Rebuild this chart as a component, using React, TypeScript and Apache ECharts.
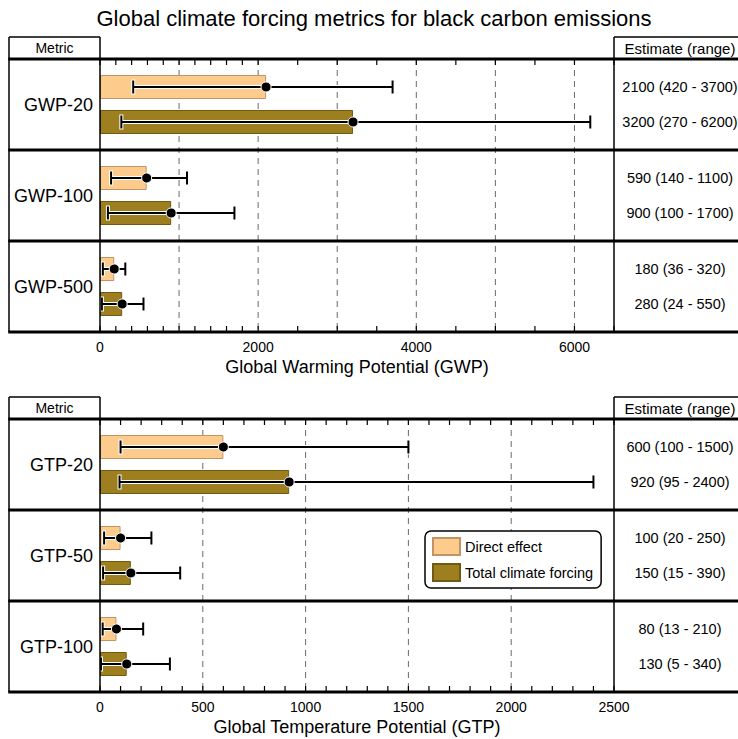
import React, { useEffect, useRef } from 'react';
import * as echarts from 'echarts';

// ---------- data ----------
const gwpMetrics = ['GWP-20', 'GWP-100', 'GWP-500'];
const gwpDirect = [2100, 590, 180];
const gwpDirectLow = [420, 140, 36];
const gwpDirectHigh = [3700, 1100, 320];
const gwpTotal = [3200, 900, 280];
const gwpTotalLow = [270, 100, 24];
const gwpTotalHigh = [6200, 1700, 550];

const gtpMetrics = ['GTP-20', 'GTP-50', 'GTP-100'];
const gtpDirect = [600, 100, 80];
const gtpDirectLow = [100, 20, 13];
const gtpDirectHigh = [1500, 250, 210];
const gtpTotal = [920, 150, 130];
const gtpTotalLow = [95, 15, 5];
const gtpTotalHigh = [2400, 390, 340];

const gwpMax = 6500;
const gwpTickValues = [0, 200, 400, 600, 800, 1000, 1200, 1400, 1600, 1800, 2000, 2500, 3000, 3500, 4000, 4500, 5000, 5500, 6000, 6500];
const gwpTickLabels = [0, 2000, 4000, 6000];
const gwpGridValues = [1000, 2000, 3000, 4000, 5000, 6000];

const gtpMax = 2500;
const gtpTickValues = [0, 100, 200, 300, 400, 500, 600, 700, 800, 900, 1000, 1100, 1200, 1300, 1400, 1500, 1600, 1700, 1800, 1900, 2000, 2100, 2200, 2300, 2400, 2500];
const gtpTickLabels = [0, 500, 1000, 1500, 2000, 2500];
const gtpGridValues = [500, 1000, 1500, 2000];

const seriesNames = ['Direct effect', 'Total climate forcing'];
const titleText = 'Global climate forcing metrics for black carbon emissions';
const gwpAxisName = 'Global Warming Potential (GWP)';
const gtpAxisName = 'Global Temperature Potential (GTP)';

// ---------- style / layout ----------
const FONT = '"Liberation Sans", Arial, Helvetica, sans-serif';
const DIRECT_COLOR = '#FDCB8B';
const DIRECT_BORDER = '#C09467';
const TOTAL_COLOR = '#9D7F1F';
const TOTAL_BORDER = '#6F5A12';
const W = 738;
const H = 739;
const OUTER_LEFT = 9;
const GRID_LEFT = 100;
const GRID_RIGHT_X = 614;
const RIGHT_TEXT_X = 680;
const BAR_W = 24;
const BAR_OFFSET = 17.5;
const TICK_LEN = 6;
const PANELS = [
  { headerTop: 37, top: 59, height: 273 },
  { headerTop: 397, top: 419, height: 273 },
];

function buildPanel(
  i: number,
  metrics: string[],
  direct: number[], dLo: number[], dHi: number[],
  total: number[], tLo: number[], tHi: number[],
  max: number, ticks: number[], labels: number[], grids: number[], axisName: string
) {
  const p = PANELS[i];
  const grid = { left: GRID_LEFT, top: p.top, width: GRID_RIGHT_X - GRID_LEFT, height: p.height, containLabel: false };
  const xBottom = {
    gridIndex: i, type: 'value', min: 0, max, position: 'bottom',
    axisLine: { show: false },
    axisTick: { show: false },
    axisLabel: { show: true, customValues: labels, fontSize: 14, color: '#000', fontFamily: FONT, margin: 8, formatter: (v: number) => String(v) },
    splitLine: { show: false },
    name: axisName, nameLocation: 'middle', nameGap: 26,
    nameTextStyle: { fontSize: 18, color: '#000', fontFamily: FONT },
  };
  const yAxis = {
    gridIndex: i, type: 'category', data: metrics, inverse: true,
    axisLine: { show: false }, axisTick: { show: false }, splitLine: { show: false },
    axisLabel: { fontSize: 18, color: '#000', fontFamily: FONT, margin: 7 },
  };
  const xi = i;
  const series: any[] = [
    {
      type: 'custom', name: 'grid' + i, xAxisIndex: xi, yAxisIndex: i, z: 1, silent: true,
      data: grids.map((v) => [v, 0]),
      encode: { x: 0, y: 1 },
      renderItem: (params: any, api: any) => {
        const cs = params.coordSys;
        const x = api.coord([api.value(0), 0])[0];
        return {
          type: 'line',
          shape: { x1: x, y1: cs.y, x2: x, y2: cs.y + cs.height },
          style: { stroke: '#6a6a6a', lineWidth: 1, lineDash: [6, 5] },
        };
      },
    },
    {
      type: 'custom', name: 'ticks' + i, xAxisIndex: xi, yAxisIndex: i, z: 3, silent: true,
      data: ticks.map((v) => [v, 0]),
      encode: { x: 0, y: 1 },
      renderItem: (params: any, api: any) => {
        const cs = params.coordSys;
        const x = api.coord([api.value(0), 0])[0];
        return {
          type: 'group',
          children: [
            { type: 'line', shape: { x1: x, y1: cs.y, x2: x, y2: cs.y + TICK_LEN }, style: { stroke: '#000', lineWidth: 1.2 } },
            { type: 'line', shape: { x1: x, y1: cs.y + cs.height - TICK_LEN, x2: x, y2: cs.y + cs.height }, style: { stroke: '#000', lineWidth: 1.2 } },
          ],
        };
      },
    },
    {
      type: 'bar', name: seriesNames[0], xAxisIndex: xi, yAxisIndex: i, z: 2,
      data: direct, barWidth: BAR_W, barGap: ((2 * BAR_OFFSET - BAR_W) / BAR_W * 100).toFixed(1) + '%',
      itemStyle: { color: DIRECT_COLOR, borderColor: DIRECT_BORDER, borderWidth: 1 },
    },
    {
      type: 'bar', name: seriesNames[1], xAxisIndex: xi, yAxisIndex: i, z: 2,
      data: total, barWidth: BAR_W,
      itemStyle: { color: TOTAL_COLOR, borderColor: TOTAL_BORDER, borderWidth: 1 },
    },
  ];
  const errData: number[][] = [];
  const txtData: number[][] = [];
  metrics.forEach((_, c) => {
    errData.push([dLo[c], dHi[c], direct[c], c, -1]);
    errData.push([tLo[c], tHi[c], total[c], c, 1]);
    txtData.push([direct[c], c, -1, dLo[c], dHi[c]]);
    txtData.push([total[c], c, 1, tLo[c], tHi[c]]);
  });
  series.push({
    type: 'custom', name: 'err' + i, xAxisIndex: xi, yAxisIndex: i, z: 5, silent: true,
    data: errData, encode: { x: [0, 1, 2], y: 3 },
    renderItem: (params: any, api: any) => {
      const lo = api.value(0), hi = api.value(1), v = api.value(2), c = api.value(3), k = api.value(4);
      const pt = api.coord([v, c]);
      const y = pt[1] + k * BAR_OFFSET;
      const xl = api.coord([lo, c])[0];
      const xh = api.coord([hi, c])[0];
      const cap = 6.5;
      return {
        type: 'group',
        children: [
          { type: 'line', shape: { x1: xl, y1: y, x2: xh, y2: y }, style: { stroke: '#fff', lineWidth: 4 } },
          { type: 'line', shape: { x1: xl, y1: y - cap - 1, x2: xl, y2: y + cap + 1 }, style: { stroke: '#fff', lineWidth: 4 } },
          { type: 'line', shape: { x1: xh, y1: y - cap - 1, x2: xh, y2: y + cap + 1 }, style: { stroke: '#fff', lineWidth: 4 } },
          { type: 'line', shape: { x1: xl, y1: y, x2: xh, y2: y }, style: { stroke: '#000', lineWidth: 2 } },
          { type: 'line', shape: { x1: xl, y1: y - cap, x2: xl, y2: y + cap }, style: { stroke: '#000', lineWidth: 2 } },
          { type: 'line', shape: { x1: xh, y1: y - cap, x2: xh, y2: y + cap }, style: { stroke: '#000', lineWidth: 2 } },
          { type: 'circle', shape: { cx: pt[0], cy: y, r: 5 }, style: { fill: '#000', stroke: '#fff', lineWidth: 1 } },
        ],
      };
    },
  });
  series.push({
    type: 'custom', name: 'txt' + i, xAxisIndex: xi, yAxisIndex: i, z: 5, silent: true, clip: false,
    data: txtData, encode: { x: 0, y: 1 },
    renderItem: (params: any, api: any) => {
      const v = api.value(0), c = api.value(1), k = api.value(2), lo = api.value(3), hi = api.value(4);
      const pt = api.coord([max, c]);
      return {
        type: 'text',
        x: RIGHT_TEXT_X, y: pt[1] + k * BAR_OFFSET,
        style: { text: `${v} (${lo} - ${hi})`, fill: '#000', fontSize: 14.5, fontFamily: FONT, align: 'center', verticalAlign: 'middle' },
      };
    },
  });
  return { grid, xAxis: xBottom, yAxis, series };
}

function structure(): any[] {
  const els: any[] = [];
  const thin = { stroke: '#000', lineWidth: 1.5 };
  const thick = { stroke: '#000', lineWidth: 3 };
  PANELS.forEach((p) => {
    const bottom = p.top + p.height;
    const line = (x1: number, y1: number, x2: number, y2: number, style: any) =>
      els.push({ type: 'line', z: 10, silent: true, shape: { x1, y1, x2, y2 }, style });
    line(OUTER_LEFT, p.headerTop, GRID_LEFT, p.headerTop, thin);
    line(GRID_RIGHT_X, p.headerTop, W + 5, p.headerTop, thin);
    line(OUTER_LEFT, p.headerTop, OUTER_LEFT, bottom, thin);
    line(GRID_LEFT, p.headerTop, GRID_LEFT, bottom, thin);
    line(GRID_RIGHT_X, p.headerTop, GRID_RIGHT_X, bottom, thin);
    for (let k = 0; k <= 3; k++) {
      const y = p.top + (p.height * k) / 3;
      line(OUTER_LEFT - 0.75, y, W + 5, y, thick);
    }
    const mid = (p.headerTop + p.top) / 2;
    els.push({ type: 'text', z: 10, x: (OUTER_LEFT + GRID_LEFT) / 2, y: mid, style: { text: 'Metric', fontSize: 14, fontFamily: FONT, fill: '#000', align: 'center', verticalAlign: 'middle' } });
    els.push({ type: 'text', z: 10, x: RIGHT_TEXT_X, y: mid, style: { text: 'Estimate (range)', fontSize: 15, fontFamily: FONT, fill: '#000', align: 'center', verticalAlign: 'middle' } });
  });
  els.push({ type: 'text', z: 10, x: 374, y: 18, style: { text: titleText, fontSize: 22, fontFamily: FONT, fill: '#000', align: 'center', verticalAlign: 'middle' } });
  return els;
}

export default function App() {
  const ref = useRef<HTMLDivElement>(null);
  useEffect(() => {
    if (!ref.current) return;
    const chart = echarts.init(ref.current, undefined, { renderer: 'svg' });
    const p1 = buildPanel(0, gwpMetrics, gwpDirect, gwpDirectLow, gwpDirectHigh, gwpTotal, gwpTotalLow, gwpTotalHigh,
      gwpMax, gwpTickValues, gwpTickLabels, gwpGridValues, gwpAxisName);
    const p2 = buildPanel(1, gtpMetrics, gtpDirect, gtpDirectLow, gtpDirectHigh, gtpTotal, gtpTotalLow, gtpTotalHigh,
      gtpMax, gtpTickValues, gtpTickLabels, gtpGridValues, gtpAxisName);
    chart.setOption({
      animation: false,
      backgroundColor: '#fff',
      textStyle: { fontFamily: FONT },
      grid: [p1.grid, p2.grid],
      xAxis: [p1.xAxis, p2.xAxis],
      yAxis: [p1.yAxis, p2.yAxis],
      legend: {
        data: seriesNames,
        orient: 'vertical', left: 425, top: 531,
        itemWidth: 27, itemHeight: 17, itemGap: 7,
        padding: [6, 8, 6, 7],
        borderColor: '#000', borderWidth: 1.5, borderRadius: 6, backgroundColor: '#fff',
        icon: 'rect',
        textStyle: { fontSize: 14.5, color: '#000', fontFamily: FONT },
        selectedMode: false,
      },
      series: [...p1.series, ...p2.series],
      graphic: structure(),
    });
    return () => chart.dispose();
  }, []);
  return <div ref={ref} style={{ position: 'absolute', left: 0, top: 0, width: W, height: H }} />;
}
